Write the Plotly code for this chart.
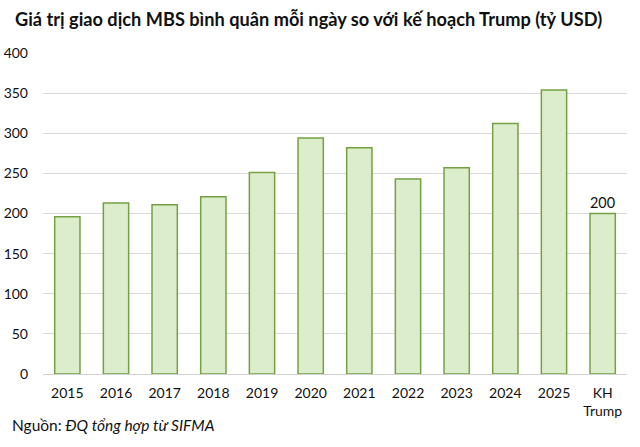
import plotly.graph_objects as go

categories = ["2015", "2016", "2017", "2018", "2019", "2020", "2021", "2022", "2023", "2024", "2025", "KH<br>Trump"]
values = [196, 213, 211, 221, 251, 294, 282, 243, 257, 312, 354, 200]
labels = [None] * 11 + ["200"]
y_ticks = [0, 50, 100, 150, 200, 250, 300, 350, 400]

fig = go.Figure()
fig.add_trace(go.Bar(
    x=categories, y=values,
    marker=dict(color="#dcedcb", line=dict(color="#76a044", width=1.5)),
    text=labels, textposition="outside", cliponaxis=False,
    textfont=dict(family="Lato", size=15, color="#111111"),
    width=0.52,
))

fig.update_layout(
    width=640, height=447,
    margin=dict(l=43, r=13, t=53, b=73, autoexpand=False),
    paper_bgcolor="white", plot_bgcolor="white",
    showlegend=False,
    font=dict(family="Lato", size=14, color="#111111"),
    title=dict(text="<b>Giá trị giao dịch MBS bình quân mỗi ngày so với kế hoạch Trump (tỷ USD)</b>",
               x=15 / 640, xanchor="left", y=1 - 20 / 447, yanchor="middle",
               font=dict(family="Lato", size=18.2, color="#111111")),
    xaxis=dict(showgrid=False, showline=True, linecolor="#d0d0d0", linewidth=1,
               ticks="", automargin=False, ticklabelstandoff=6,
               tickfont=dict(family="Lato", size=14)),
    yaxis=dict(range=[0, 400], tickvals=y_ticks, showgrid=True, gridcolor="#d9d9d9",
               gridwidth=1, zeroline=False, showline=False, ticks="", automargin=False,
               ticklabelstandoff=14, tickfont=dict(family="Lato", size=14)),
    annotations=[dict(
        text="Nguồn: <i>ĐQ tổng hợp từ SIFMA</i>", xref="paper", yref="paper",
        x=-33 / 584, y=-(425 - 374) / 321, xanchor="left", yanchor="middle", showarrow=False,
        font=dict(family="Lato", size=15.5, color="#111111"))],
)

fig.write_html("out.html", config={"displayModeBar": False},
               post_script="document.body.style.margin='0';")
